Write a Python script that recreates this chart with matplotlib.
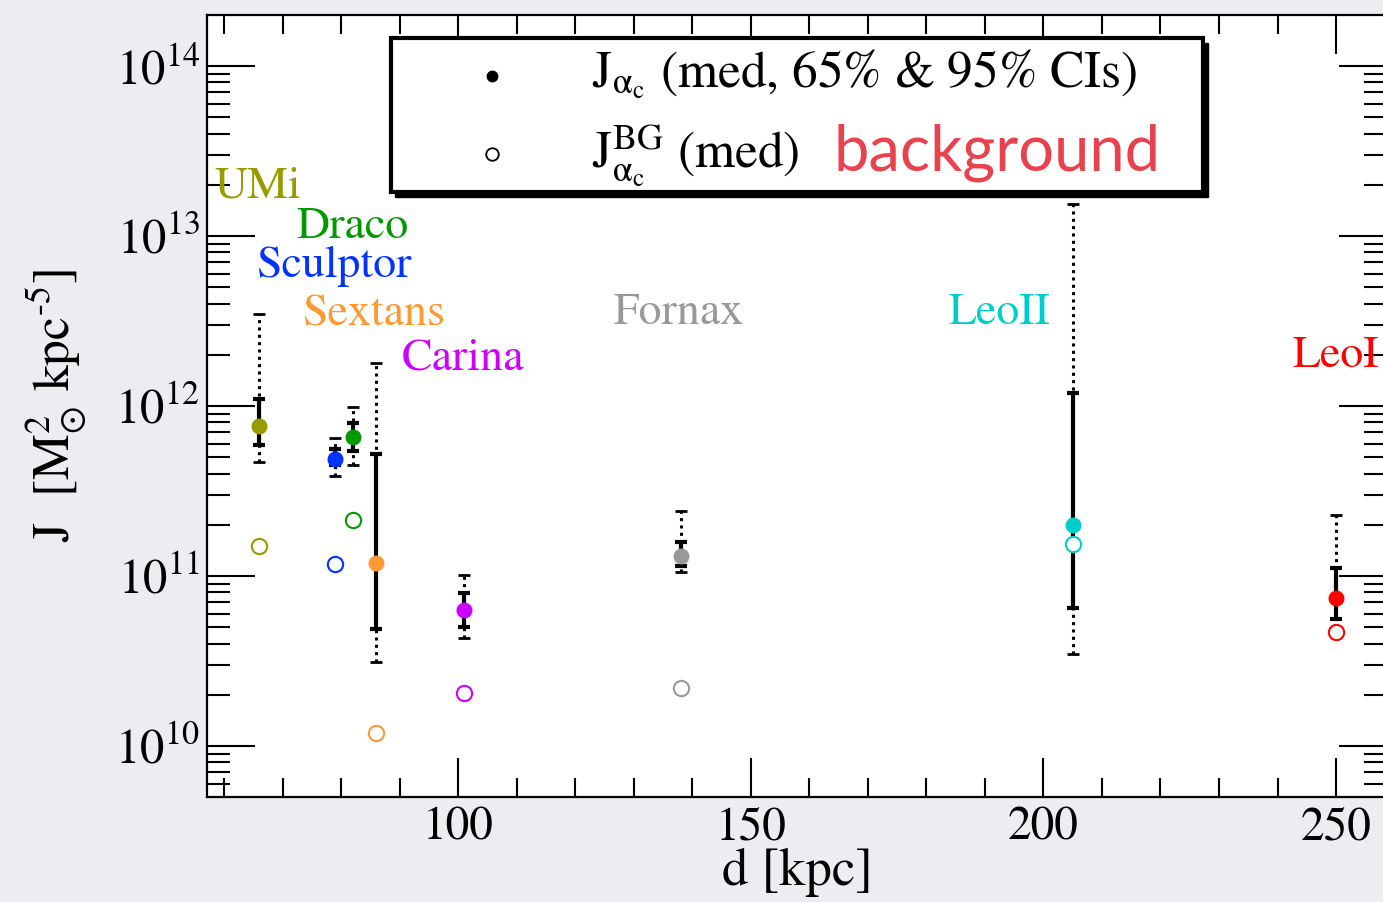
"""
J-factor vs distance for the classical dwarf spheroidals, with the
background (BG) median J for each.  Writes out.png.
"""
import numpy as np
import matplotlib
matplotlib.use("Agg")
import matplotlib.pyplot as plt
from matplotlib.patches import Rectangle
from matplotlib.ticker import MultipleLocator, LogLocator, NullFormatter

# ---- data ----
names = ["UMi", "Sculptor", "Draco", "Sextans", "Carina", "Fornax", "LeoII", "LeoI"]
colors = ["#999900", "#0033ff", "#009a00", "#ff9933", "#cc00ff", "#999999", "#00cccc", "#ff0000"]
dist_kpc = [66, 79, 82, 86, 101, 138, 205, 250]
J_med = [7.6e11, 4.9e11, 6.6e11, 1.2e11, 6.3e10, 1.32e11, 2.0e11, 7.4e10]
J_lo65 = [5.9e11, 4.5e11, 5.4e11, 4.9e10, 5.0e10, 1.15e11, 6.5e10, 5.6e10]
J_hi65 = [1.1e12, 5.6e11, 7.9e11, 5.25e11, 7.9e10, 1.58e11, 1.2e12, 1.12e11]
J_lo95 = [4.7e11, 3.9e11, 4.5e11, 3.1e10, 4.3e10, 1.05e11, 3.5e10, 4.5e10]
J_hi95 = [3.5e12, 6.5e11, 9.8e11, 1.78e12, 1.02e11, 2.4e11, 1.55e13, 2.3e11]
J_bg = [1.5e11, 1.17e11, 2.14e11, 1.2e10, 2.04e10, 2.2e10, 1.55e11, 4.7e10]

# where the galaxy names sit (data coords)
label_x = [65.7, 78.8, 81.9, 85.6, 100.9, 137.6, 192.4, 250.0]
label_y = [1.95e13, 6.6e12, 1.12e13, 3.45e12, 1.88e12, 3.5e12, 3.5e12, 1.95e12]

W, H = 1383, 902
plt.rcParams["font.family"] = ["STIXGeneral", "DejaVu Serif"]
plt.rcParams["mathtext.fontset"] = "stix"

fig = plt.figure(figsize=(W / 100, H / 100), dpi=100, facecolor="#ebedf0")
# axes box in pixels: left 207, right 1387, top 15, bottom 797
ax = fig.add_axes([207 / W, 1 - 797 / H, 1180 / W, 782 / H])
ax.set_facecolor("white")
ax.set_xlim(57.1, 258.7)
ax.set_yscale("log")
ax.set_ylim(10 ** 9.7, 10 ** 14.3)

for s in ax.spines.values():
    s.set_linewidth(1.6)

ax.xaxis.set_major_locator(MultipleLocator(50))
ax.xaxis.set_minor_locator(MultipleLocator(10))
ax.yaxis.set_major_locator(LogLocator(base=10, numticks=20))
ax.yaxis.set_minor_locator(LogLocator(base=10, subs=np.arange(2, 10), numticks=20))
ax.yaxis.set_minor_formatter(NullFormatter())
ax.tick_params(which="both", direction="in", top=True, right=True, width=1.5)
ax.tick_params(axis="x", which="major", length=28, labelsize=34, pad=7)
ax.tick_params(axis="x", which="minor", length=13.5)
ax.tick_params(axis="y", which="major", length=34.5, labelsize=35, pad=5)
ax.tick_params(axis="y", which="minor", length=16.5)

ax.set_xlabel("d [kpc]", fontsize=38, labelpad=-1)
ax.set_ylabel(r"J  [M$_{\odot}^{2}$ kpc$^{\text{-}5}$]", fontsize=37, labelpad=20)

# 95% CIs: dotted with small caps
ax.vlines(dist_kpc, J_lo95, J_hi95, colors="black", linewidth=2.2,
          linestyles=(0, (1, 1.4)), zorder=2)
ax.plot(dist_kpc, J_lo95, ls="none", marker="_", ms=8, mew=2, color="black", zorder=2)
ax.plot(dist_kpc, J_hi95, ls="none", marker="_", ms=8, mew=2, color="black", zorder=2)
# 65% CIs: solid with caps
ax.vlines(dist_kpc, J_lo65, J_hi65, colors="black", linewidth=3, zorder=3)
ax.plot(dist_kpc, J_lo65, ls="none", marker="_", ms=9, mew=3, color="black", zorder=3)
ax.plot(dist_kpc, J_hi65, ls="none", marker="_", ms=9, mew=3, color="black", zorder=3)

for x, m, b, c in zip(dist_kpc, J_med, J_bg, colors):
    ax.plot(x, m, "o", ms=10.5, color=c, mec=c, zorder=4)
    ax.plot(x, b, "o", ms=11, mfc="white", mec=c, mew=1.5, zorder=4)

for n, x, y, c in zip(names, label_x, label_y, colors):
    ax.text(x, y, n, color=c, fontsize=33, ha="center", va="center", zorder=5)

# legend box drawn by hand (figure pixels -> fraction)
def fx(px):
    return px / W

def fy(py):
    return 1 - py / H

fig.add_artist(Rectangle((fx(395), fy(197)), fx(813), 154 / H, transform=fig.transFigure,
                         facecolor="black", edgecolor="black", zorder=10))
fig.add_artist(Rectangle((fx(391), fy(192)), fx(812), 154 / H, transform=fig.transFigure,
                         facecolor="white", edgecolor="black", linewidth=3, zorder=11))
fig.add_artist(plt.Line2D([fx(492)], [fy(76)], marker="o", ms=7.5, color="black",
                          transform=fig.transFigure, zorder=12))
fig.add_artist(plt.Line2D([fx(492)], [fy(154)], marker="o", ms=9, mfc="white", mec="black",
                          mew=1.3, transform=fig.transFigure, zorder=12))
alpha_c = r"_{\mathrm{\alpha}_{\rm c}}"
fig.text(fx(592), fy(87), r"J$" + alpha_c + r"$ (med, 65% & 95% CIs)", fontsize=37,
         ha="left", va="baseline", zorder=12)
fig.text(fx(592), fy(167), r"J$^{\rm BG}" + alpha_c + r"$ (med)", fontsize=37,
         ha="left", va="baseline", zorder=12)
fig.text(fx(833), fy(171), "background", fontsize=45.5, family="Lato", color="#e8424f",
         ha="left", va="baseline", zorder=12)

fig.savefig("out.png", dpi=100, facecolor=fig.get_facecolor())
